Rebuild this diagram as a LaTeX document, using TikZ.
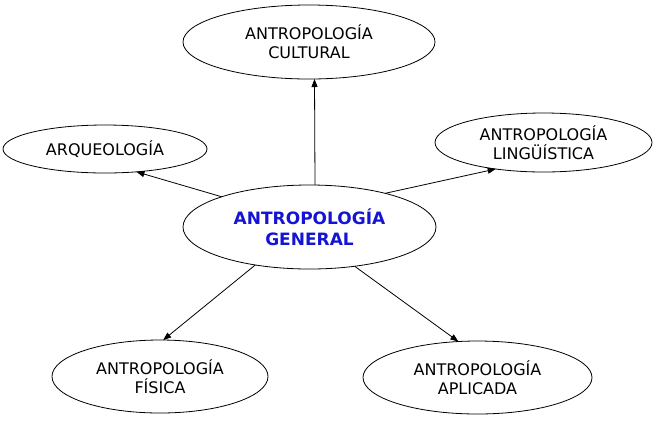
\documentclass[tikz,border=0pt]{standalone}
\usepackage{fontspec}
\setmainfont{DejaVu Sans}
\usetikzlibrary{shapes.geometric,arrows.meta}
\definecolor{titleblue}{RGB}{20,20,210}
\tikzset{
  bubble/.style={ellipse, draw=black, line width=0.8bp, inner sep=0pt, outer sep=0pt,
    align=center, font=\fontsize{16bp}{19bp}\selectfont},
  mainbubble/.style={bubble, text=titleblue, font=\fontsize{17bp}{21bp}\selectfont\bfseries},
  link/.style={draw=black, line width=0.8bp, -{Triangle[length=8bp,width=6bp]}}
}
\begin{document}
\begin{tikzpicture}[x=1bp,y=-1bp]
\useasboundingbox (0,0) rectangle (656,420);
\node[mainbubble, minimum width=253bp, minimum height=84bp] (gen) at (309.5,227) {ANTROPOLOGÍA\\GENERAL};
\node[bubble, minimum width=252bp, minimum height=74bp] (cul) at (309,42) {ANTROPOLOGÍA\\CULTURAL};
\node[bubble, minimum width=204bp, minimum height=48bp] (arq) at (105,149) {ARQUEOLOGÍA};
\node[bubble, minimum width=217bp, minimum height=59bp] (lin) at (543.5,142.5) {ANTROPOLOGÍA\\LINGÜÍSTICA};
\node[bubble, minimum width=216bp, minimum height=73bp] (fis) at (160,376.5) {ANTROPOLOGÍA\\FÍSICA};
\node[bubble, minimum width=229bp, minimum height=73bp] (apl) at (477.5,377.5) {ANTROPOLOGÍA\\APLICADA};
\draw[link] ([xshift=5.5bp]gen.north) -- ([xshift=5.5bp]cul.south);
\draw[link] (gen.161) -- (arq.-36);
\draw[link] (gen.24) -- (lin.-151);
\draw[link] (gen.-145) -- (fis.85);
\draw[link] (gen.-41) -- (apl.118);
\end{tikzpicture}
\end{document}
